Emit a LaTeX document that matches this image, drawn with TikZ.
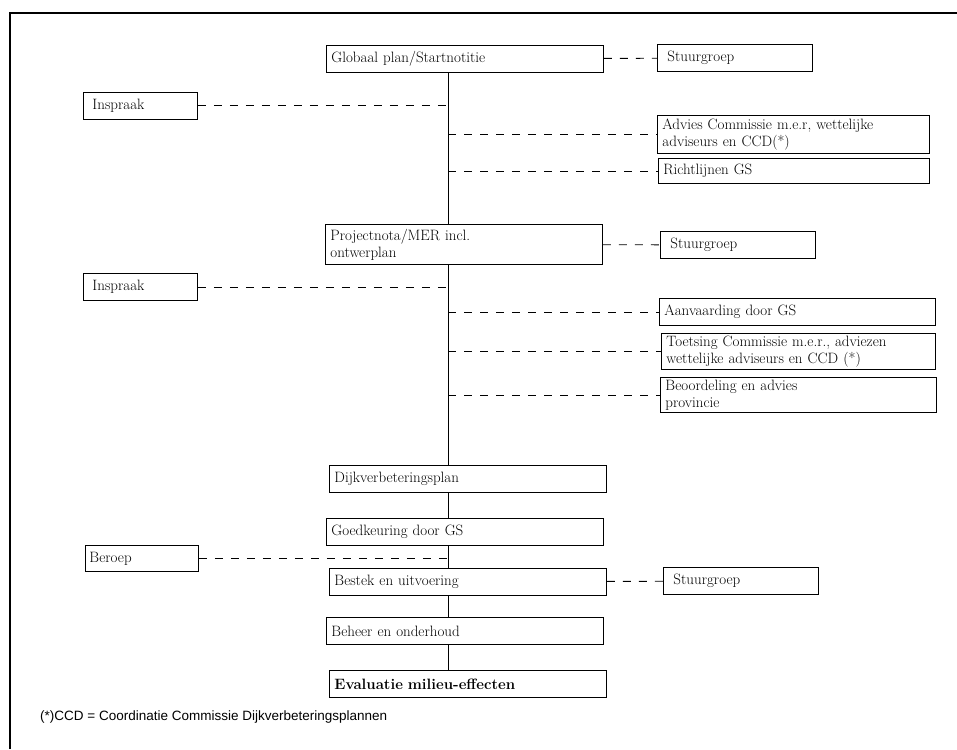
\documentclass[tikz,border=0pt]{standalone}
\usepackage{fontspec}
\setsansfont{Liberation Sans}
\usetikzlibrary{positioning}
\tikzset{
  box/.style={rectangle, draw=black, line width=0.9pt, anchor=north west, inner xsep=5pt, inner ysep=1pt, align=left, text width=#1, font=\fontsize{15}{17}\selectfont},
  mainbox/.style={box=267pt, minimum height=27pt},
  sidebox/.style={box=265pt, minimum height=27pt},
  stuurbox/.style={box=135pt, inner xsep=10pt, minimum height=27pt},
  inspbox/.style={box=96pt, inner xsep=9pt, minimum height=27pt},
  link/.style={line width=0.9pt, dash pattern=on 8pt off 8pt},
  trunkline/.style={line width=0.9pt}
}

\begin{document}
\begin{tikzpicture}[x=1pt, y=-1pt]
\useasboundingbox (0,0) rectangle (957,749);

% Frame
\draw[line width=1.5pt] (10,749) -- (10,13) -- (957,13);

% Main column
\node[mainbox] (glob) at (326,45) {Globaal plan/Startnotitie};
\node[mainbox, minimum height=40pt] (proj) at (325,224) {Projectnota/MER incl.\\ontwerplan};
\node[mainbox] (dijk) at (329,465) {Dijkverbeteringsplan};
\node[mainbox] (goed) at (326,518) {Goedkeuring door GS};
\node[mainbox] (bestek) at (329,568) {Bestek en uitvoering};
\node[mainbox] (beheer) at (326,617) {Beheer en onderhoud};
\node[mainbox] (eval) at (329,670) {\bfseries Evaluatie milieu-effecten};
\coordinate (trunk) at (448,0);

% Left side
\node[inspbox] (insp1) at (83,92) {Inspraak};
\node[inspbox] (insp2) at (83,273) {Inspraak};
\node[inspbox, inner xsep=4pt, text width=105pt, minimum height=26pt] (beroep) at (85,545) {Beroep};

% Right side
\node[stuurbox] (stuur1) at (657,44) {Stuurgroep};
\node[sidebox, text width=262pt, minimum height=38pt] (advies) at (657,115) {Advies Commissie m.e.r, wettelijke\\adviseurs en CCD(*)};
\node[sidebox, text width=261pt, minimum height=25pt] (richt) at (658,158) {Richtlijnen GS};
\node[stuurbox] (stuur2) at (660,231) {Stuurgroep};
\node[sidebox, text width=266pt] (aanv) at (659,298) {Aanvaarding door GS};
\node[sidebox, text width=264pt, minimum height=36pt] (toets) at (661,333) {Toetsing Commissie m.e.r., adviezen\\wettelijke adviseurs en CCD (*)};
\node[sidebox, text width=266pt, minimum height=35pt] (beoord) at (660,377) {Beoordeling en advies\\provincie};
\node[stuurbox] (stuur3) at (663,567) {Stuurgroep};

% Footnote
\node[anchor=west, inner sep=0pt, font=\sffamily\fontsize{13.5}{16}\selectfont] (note) at (40,717) {(*)CCD = Coordinatie Commissie Dijkverbeteringsplannen};

% Trunk
\draw[trunkline] (glob.south -| trunk) -- (proj.north -| trunk);
\draw[trunkline] (proj.south -| trunk) -- (dijk.north -| trunk);
\draw[trunkline] (dijk.south -| trunk) -- (goed.north -| trunk);
\draw[trunkline] (goed.south -| trunk) -- (bestek.north -| trunk);
\draw[trunkline] (bestek.south -| trunk) -- (beheer.north -| trunk);
\draw[trunkline] (beheer.south -| trunk) -- (eval.north -| trunk);

% Dashed links
\draw[link] (glob) -- (stuur1);
\draw[link] (proj) -- (stuur2);
\draw[link] (bestek) -- (stuur3);
\draw[link] (insp1) -- (insp1 -| trunk);
\draw[link] (insp2) -- (insp2 -| trunk);
\draw[link] (beroep) -- (beroep -| trunk);
\draw[link] (advies -| trunk) -- (advies);
\draw[link] (richt -| trunk) -- (richt);
\draw[link] (aanv -| trunk) -- (aanv);
\draw[link] (toets -| trunk) -- (toets);
\draw[link] (beoord -| trunk) -- (beoord);

\end{tikzpicture}
\end{document}
